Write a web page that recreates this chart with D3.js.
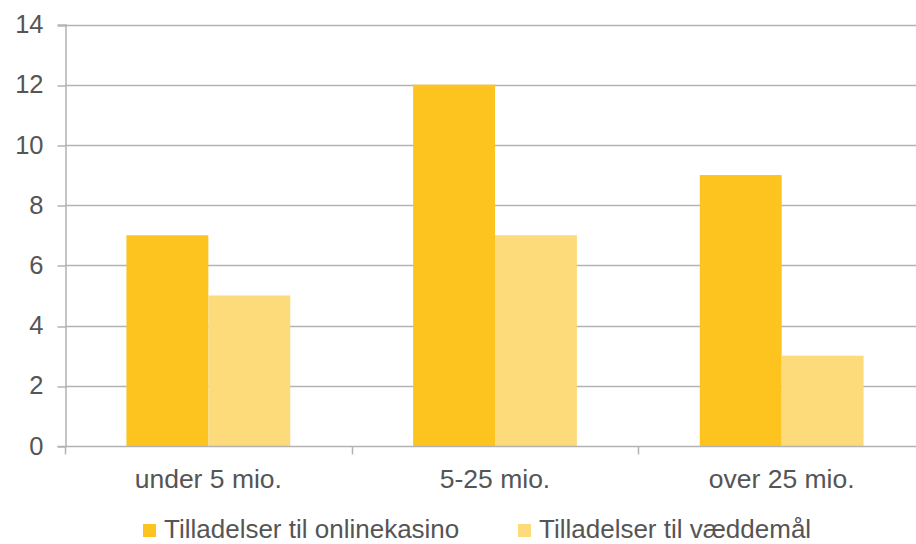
<!DOCTYPE html>
<html><head><meta charset="utf-8">
<script src="https://cdn.jsdelivr.net/npm/d3@7"></script>
<style>body{margin:0;background:#fff}svg{display:block}</style>
</head><body><svg id="c" width="916" height="544"></svg>
<script>
const categories = ["under 5 mio.", "5-25 mio.", "over 25 mio."];
const seriesNames = ["Tilladelser til onlinekasino", "Tilladelser til væddemål"];
const onlinekasino = [7, 12, 9];
const vaeddemaal = [5, 7, 3];
const yTicks = [0, 2, 4, 6, 8, 10, 12, 14];
const colors = ["#FDC41F", "#FDDA7A"];

(function () {
const svg = d3.select("#c");
const mLeft = 65, mRight = 925, mTop = 24.5, mBottom = 446;
const font = "'Liberation Sans', Arial, sans-serif";
const textColor = "#555555";
const gridColor = "#B3B3B3";

const x = d3.scaleBand().domain(categories).range([mLeft, mRight]).paddingInner(0).paddingOuter(0);
const bw = x.bandwidth();
const xs = d3.scaleBand().domain(seriesNames).range([bw * 0.2143, bw * 0.7857]);
const y = d3.scaleLinear().domain([0, 14]).range([mBottom, mTop]);

// gridlines
svg.append("g").selectAll("line").data(yTicks.filter(d => d > 0)).join("line")
  .attr("x1", mLeft).attr("x2", mRight)
  .attr("y1", d => Math.round(y(d)) + 0.5).attr("y2", d => Math.round(y(d)) + 0.5)
  .attr("stroke", gridColor).attr("stroke-width", 1.5);

// bars
const data = [onlinekasino, vaeddemaal];
data.forEach((vals, si) => {
  svg.append("g").selectAll("rect").data(vals).join("rect")
    .attr("x", (d, i) => x(categories[i]) + xs(seriesNames[si]))
    .attr("width", xs.bandwidth())
    .attr("y", d => y(d))
    .attr("height", d => y(0) - y(d))
    .attr("fill", colors[si]);
});

// y axis
const yAxis = d3.axisLeft(y).tickValues(yTicks).tickSize(8).tickPadding(14);
const gy = svg.append("g").attr("transform", `translate(${mLeft + 0.5},0)`).call(yAxis);
gy.select(".domain").attr("stroke", gridColor).attr("stroke-width", 1.5);
gy.selectAll(".tick line").attr("stroke", gridColor).attr("stroke-width", 1.5)
  .attr("transform", d => `translate(0,${Math.round(y(d)) + 0.5 - y(d)})`);
gy.selectAll(".tick text").attr("fill", textColor).style("font-family", font).style("font-size", "25.5px");

// x axis
const gx = svg.append("g").attr("transform", `translate(0,${mBottom + 0.5})`);
gx.append("line").attr("x1", mLeft).attr("x2", mRight).attr("stroke", gridColor).attr("stroke-width", 1.5);
const boundaries = categories.map(c => x(c)).concat([mRight]);
gx.selectAll("line.tk").data(boundaries).join("line").attr("class", "tk")
  .attr("x1", d => Math.round(d) + 0.5).attr("x2", d => Math.round(d) + 0.5)
  .attr("y1", 0).attr("y2", 8).attr("stroke", gridColor).attr("stroke-width", 1.5);
gx.selectAll("text").data(categories).join("text")
  .attr("x", d => x(d) + bw / 2).attr("y", 41)
  .attr("text-anchor", "middle").attr("fill", textColor)
  .style("font-family", font).style("font-size", "26.5px").text(d => d);

// legend
const legendX = [143, 518];
const lg = svg.append("g");
seriesNames.forEach((name, i) => {
  lg.append("rect").attr("x", legendX[i]).attr("y", 524).attr("width", 13).attr("height", 13).attr("fill", colors[i]);
  lg.append("text").attr("x", legendX[i] + 21).attr("y", 538).attr("fill", textColor)
    .style("font-family", font).style("font-size", "26px").text(name);
});
})();
</script></body></html>
